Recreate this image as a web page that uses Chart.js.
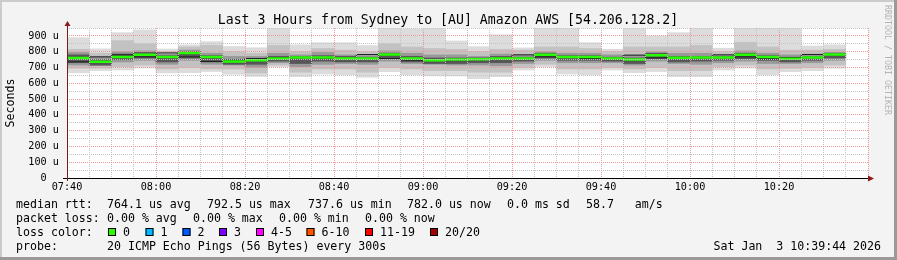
<!DOCTYPE html>
<html>
<head>
<meta charset="utf-8">
<script src="https://cdn.jsdelivr.net/npm/chart.js@4/dist/chart.umd.min.js"></script>
<style>
  html, body { margin: 0; padding: 0; background: #f3f3f3; }
</style>
</head>
<body>
<canvas id="grafico" width="897" height="260"></canvas>
<script>
// inicio de cada intervalo de 5 minutos
const horarios = ["07:40", "07:45", "07:50", "07:55", "08:00", "08:05", "08:10", "08:15", "08:20", "08:25",
  "08:30", "08:35", "08:40", "08:45", "08:50", "08:55", "09:00", "09:05", "09:10", "09:15",
  "09:20", "09:25", "09:30", "09:35", "09:40", "09:45", "09:50", "09:55", "10:00", "10:05",
  "10:10", "10:15", "10:20", "10:25", "10:30"];

// rtt em microssegundos
const mediana = [760, 736, 767, 780, 767, 792, 767, 738, 746, 757, 763, 763, 757, 757, 782, 757, 746, 750, 752, 757,
  757, 780, 767, 767, 757, 750, 778, 761, 763, 763, 780, 767, 755, 763, 782];
const rttMax = [889, 818, 921, 938, 817, 843, 864, 833, 825, 950, 843, 857, 857, 839, 950, 945, 950, 868, 832, 906,
  824, 950, 950, 857, 815, 950, 900, 921, 950, 822, 950, 950, 950, 836, 843];
const alto2 = [815, 790, 870, 850, 800, 830, 840, 800, 790, 840, 800, 820, 810, 800, 850, 830, 820, 815, 800, 815,
  810, 830, 830, 820, 800, 830, 830, 830, 840, 800, 860, 830, 810, 810, 815];
const alto3 = [795, 770, 800, 805, 785, 810, 790, 770, 770, 790, 780, 795, 780, 775, 805, 790, 780, 780, 770, 785,
  780, 800, 790, 790, 780, 780, 800, 790, 790, 780, 805, 790, 780, 785, 795];
const nucleoAlto = [780, 750, 785, 795, 775, 800, 775, 750, 755, 770, 770, 775, 770, 765, 790, 770, 760, 760, 760, 770,
  765, 790, 775, 775, 765, 760, 790, 770, 770, 770, 790, 775, 765, 770, 790];
const nucleoBaixo = [730, 715, 750, 760, 735, 760, 735, 720, 720, 740, 725, 740, 735, 735, 755, 735, 725, 725, 730, 730,
  740, 760, 745, 745, 740, 725, 755, 735, 740, 745, 755, 745, 735, 745, 760];
const baixo3 = [715, 712, 735, 745, 720, 745, 720, 715, 700, 730, 705, 720, 725, 720, 740, 725, 720, 715, 715, 710,
  725, 745, 730, 730, 730, 715, 740, 725, 720, 730, 740, 725, 725, 730, 745];
const baixo2 = [695, 695, 705, 715, 690, 700, 690, 690, 665, 715, 670, 690, 690, 670, 700, 690, 680, 680, 670, 670,
  700, 720, 690, 690, 700, 690, 700, 680, 680, 705, 715, 690, 695, 700, 715];
const rttMin = [666, 680, 684, 697, 665, 667, 674, 657, 643, 705, 642, 659, 653, 638, 674, 653, 646, 646, 629, 642,
  684, 705, 659, 653, 684, 667, 674, 642, 642, 684, 697, 653, 674, 680, 695];

const titulo = "Last 3 Hours from Sydney to [AU] Amazon AWS [54.206.128.2]";
const coresPerda = [["0", "#26ff00"], ["1", "#00b8ff"], ["2", "#0059ff"], ["3", "#7e00ff"],
  ["4-5", "#ff00ff"], ["6-10", "#ff5500"], ["11-19", "#ff0000"], ["20/20", "#a10000"]];

const inicio = 7 * 60 + 40;
const passo = 5;
const mono = "'DejaVu Sans Mono', monospace";

function paraMinutos(h) {
  const [hh, mm] = h.split(":").map(Number);
  return hh * 60 + mm - inicio;
}

function rotulo(m) {
  const t = inicio + m;
  return String(Math.floor(t / 60)).padStart(2, "0") + ":" + String(t % 60).padStart(2, "0");
}

function faixa(baixo, alto, cor) {
  return {
    type: "bar",
    data: horarios.map((h, i) => ({ x: paraMinutos(h) + passo / 2, y: [baixo[i], alto[i]] })),
    backgroundColor: cor,
    grouped: false,
    barPercentage: 1,
    categoryPercentage: 1,
    borderWidth: 0
  };
}

// segmentos verdes da mediana, um por intervalo
const segmentos = [];
horarios.forEach((h, i) => {
  const x0 = paraMinutos(h);
  segmentos.push({ x: x0, y: mediana[i] }, { x: x0 + passo, y: mediana[i] }, { x: x0 + passo, y: null });
});

const degraus = horarios.map((h, i) => ({ x: paraMinutos(h), y: mediana[i] }));
degraus.push({ x: paraMinutos(horarios[horarios.length - 1]) + passo, y: mediana[mediana.length - 1] });

const vermelho = "#eb9a9a";
const cinza = "#c4c4c4";

const moldura = {
  id: "moldura",
  beforeDraw(chart) {
    const { ctx, chartArea: a, width, height } = chart;
    ctx.save();
    ctx.fillStyle = "#f3f3f3";
    ctx.fillRect(0, 0, width, height);
    ctx.fillStyle = "#cbcbcb";
    ctx.fillRect(0, 0, width, 2);
    ctx.fillRect(0, 0, 2, height);
    ctx.fillStyle = "#9a9a9a";
    ctx.fillRect(0, height - 3, width, 3);
    ctx.fillRect(width - 3, 0, 3, height);
    ctx.fillStyle = "#ffffff";
    ctx.fillRect(a.left, a.top, a.right - a.left, a.bottom - a.top);
    ctx.restore();
  },
  afterDraw(chart) {
    const { ctx, chartArea: a } = chart;
    ctx.save();

    // eixos e setas
    ctx.strokeStyle = "#000";
    ctx.lineWidth = 1;
    ctx.beginPath();
    ctx.moveTo(a.left - 4, a.bottom + 0.5);
    ctx.lineTo(a.right, a.bottom + 0.5);
    ctx.stroke();
    ctx.strokeStyle = "#7a1c1c";
    ctx.beginPath();
    ctx.moveTo(a.left + 0.5, a.bottom + 3);
    ctx.lineTo(a.left + 0.5, a.top - 2);
    ctx.stroke();
    ctx.fillStyle = "#8b1a1a";
    ctx.beginPath();
    ctx.moveTo(a.left + 0.5, a.top - 7);
    ctx.lineTo(a.left - 2.5, a.top - 2);
    ctx.lineTo(a.left + 3.5, a.top - 2);
    ctx.closePath();
    ctx.fill();
    ctx.beginPath();
    ctx.moveTo(a.right + 6, a.bottom + 0.5);
    ctx.lineTo(a.right, a.bottom - 2.5);
    ctx.lineTo(a.right, a.bottom + 3.5);
    ctx.closePath();
    ctx.fill();

    // titulo
    ctx.fillStyle = "#000";
    ctx.font = "13.2px " + mono;
    ctx.textAlign = "center";
    ctx.textBaseline = "alphabetic";
    ctx.fillText(titulo, 448, 24);

    // titulo do eixo y
    ctx.font = "11.6px " + mono;
    ctx.save();
    ctx.translate(11, (a.top + a.bottom) / 2);
    ctx.rotate(-Math.PI / 2);
    ctx.textBaseline = "middle";
    ctx.fillText("Seconds", 0, 0);
    ctx.restore();

    // marca d'agua
    ctx.save();
    ctx.translate(887, 5);
    ctx.rotate(Math.PI / 2);
    ctx.font = "8.3px " + mono;
    ctx.fillStyle = "#b4b4b4";
    ctx.textAlign = "left";
    ctx.textBaseline = "middle";
    ctx.fillText("RRDTOOL / TOBI OETIKER", 0, 0);
    ctx.restore();

    // legenda
    ctx.font = "11.6px " + mono;
    ctx.textAlign = "left";
    ctx.textBaseline = "alphabetic";
    const linhas = [
      [208, [[16, "median rtt:"], [107, "764.1 us avg"], [207, "792.5 us max"], [308, "737.6 us min"],
        [407, "782.0 us now"], [507, "0.0 ms sd"], [586, "58.7   am/s"]]],
      [222, [[16, "packet loss:"], [107, "0.00 % avg"], [193, "0.00 % max"], [279, "0.00 % min"], [365, "0.00 % now"]]],
      [236, [[16, "loss color:"]]],
      [250, [[16, "probe:"], [107, "20 ICMP Echo Pings (56 Bytes) every 300s"]]]
    ];
    linhas.forEach(([y, partes]) => {
      partes.forEach(([x, texto]) => ctx.fillText(texto, x, y));
    });
    const posQuadrados = [108, 145.5, 182.5, 219, 256, 306.5, 365, 430];
    coresPerda.forEach(([nome, cor], i) => {
      const x = posQuadrados[i];
      ctx.fillStyle = cor;
      ctx.fillRect(x, 228, 8, 8);
      ctx.strokeStyle = "#000";
      ctx.strokeRect(x + 0.5, 228.5, 7, 7);
      ctx.fillStyle = "#000";
      ctx.fillText(nome, x + 15, 236);
    });
    ctx.textAlign = "right";
    ctx.fillText("Sat Jan  3 10:39:44 2026", 881, 250);
    ctx.restore();
  }
};

const ctx = document.getElementById("grafico").getContext("2d");

const grafico = new Chart(ctx, {
  type: "bar",
  data: {
    datasets: [
      {
        type: "line",
        data: segmentos,
        borderColor: "#26ff00",
        borderWidth: 2.5,
        pointRadius: 0,
        spanGaps: false,
        tension: 0
      },
      {
        type: "line",
        data: degraus,
        borderColor: "#202020",
        borderWidth: 1,
        pointRadius: 0,
        stepped: "after",
        tension: 0
      },
      faixa(nucleoBaixo, nucleoAlto, "#565656"),
      faixa(baixo3, alto3, "#999999"),
      faixa(baixo2, alto2, "#c2c2c2"),
      faixa(rttMin, rttMax, "#dcdcdc")
    ]
  },
  options: {
    responsive: false,
    animation: false,
    events: [],
    layout: { padding: { top: 28, right: 29, bottom: 62, left: 0 } },
    plugins: { legend: { display: false }, tooltip: { enabled: false } },
    scales: {
      x: {
        type: "linear",
        min: 0,
        max: 180,
        offset: false,
        afterFit: (s) => { s.height = 20; },
        grid: {
          offset: false,
          drawTicks: false,
          z: 1,
          color: (c) => (c.tick && c.tick.value % 20 === 0 ? vermelho : cinza)
        },
        border: { display: false, dash: [1, 1] },
        ticks: {
          stepSize: 5,
          autoSkip: false,
          maxRotation: 0,
          padding: 3,
          color: "#000",
          font: { family: mono, size: 10.2 },
          callback: (v) => (v % 20 === 0 && v < 180 ? rotulo(v) : "")
        }
      },
      y: {
        min: 0,
        max: 950,
        afterFit: (s) => { s.width = 67; },
        grid: {
          drawTicks: false,
          z: 1,
          color: (c) => (c.tick && c.tick.value % 100 === 0 ? vermelho : cinza)
        },
        border: { display: false, dash: [1, 1] },
        ticks: {
          stepSize: 50,
          autoSkip: false,
          padding: 8,
          color: "#000",
          font: { family: mono, size: 10.2 },
          callback: (v) => (v % 100 !== 0 ? "" : v === 0 ? "0  " : v + " u")
        }
      }
    }
  },
  plugins: [moldura]
});
</script>
</body>
</html>
